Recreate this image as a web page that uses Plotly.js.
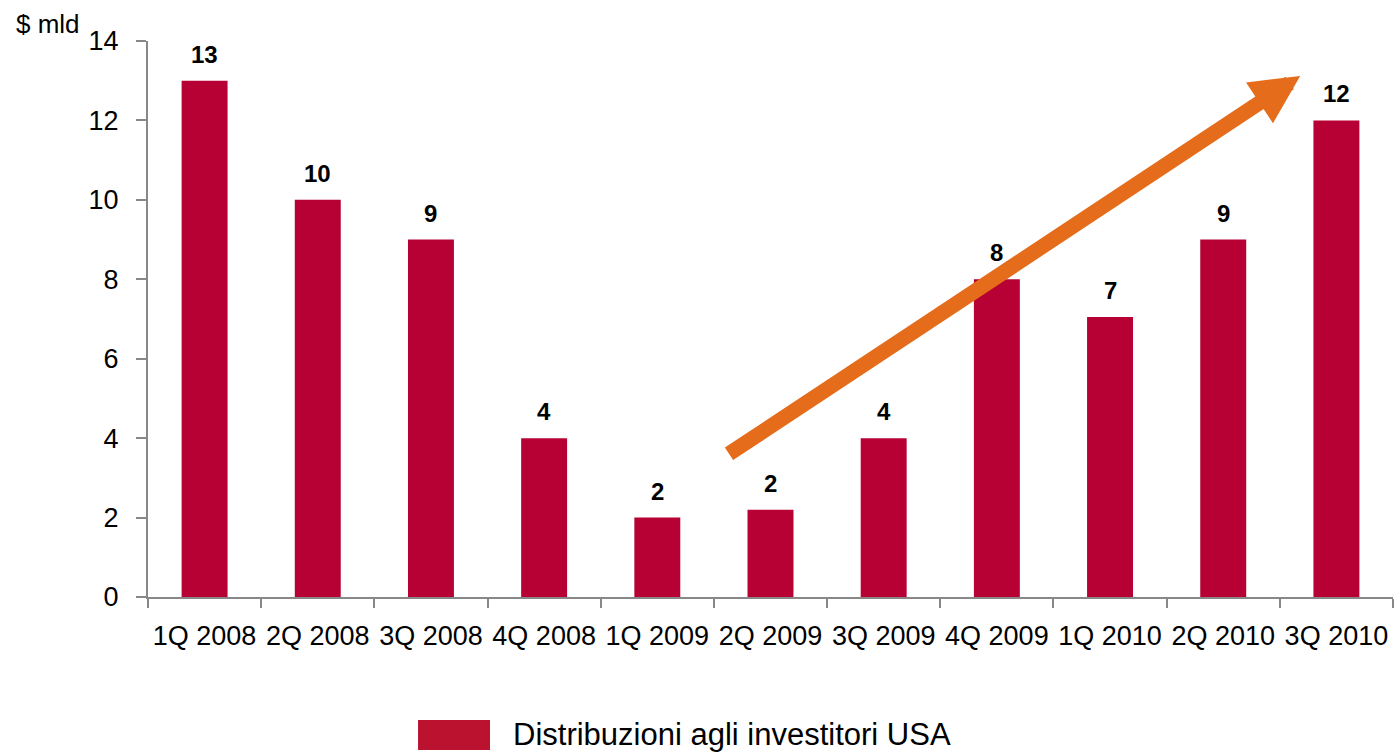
<!DOCTYPE html>
<html>
<head>
<meta charset="utf-8">
<script src="https://cdn.plot.ly/plotly-3.0.1.min.js"></script>
<style>
  html, body { margin: 0; padding: 0; background: #fff; }
  #plot { width: 1394px; height: 755px; }
</style>
</head>
<body>
<div id="plot"></div>
<script>
// quarters and values ($ mld)
var quarters = ["1Q 2008", "2Q 2008", "3Q 2008", "4Q 2008", "1Q 2009", "2Q 2009",
                "3Q 2009", "4Q 2009", "1Q 2010", "2Q 2010", "3Q 2010"];
var distribuzioni = [13, 10, 9, 4, 2.0, 2.2, 4, 8, 7.05, 9, 12];
var valueLabels = ["13", "10", "9", "4", "2", "2", "4", "8", "7", "9", "12"];
var yTicks = [0, 2, 4, 6, 8, 10, 12, 14];

var barColor = "#B70034";
var axisGrey = "#888888";
var font = "Arial, 'Liberation Sans', sans-serif";

var trace = {
  x: quarters,
  y: distribuzioni,
  type: "bar",
  name: "Distribuzioni agli investitori USA",
  marker: { color: barColor },
  hoverinfo: "none",
  showlegend: false
};

// labels above the bars
var annotations = quarters.map(function (q, i) {
  return {
    x: q, y: distribuzioni[i], xref: "x", yref: "y",
    text: "<b>" + valueLabels[i] + "</b>",
    showarrow: false, yanchor: "bottom", yshift: 11,
    font: { family: font, size: 24, color: "#000" }
  };
});

// trend arrow
annotations.push({
  x: 9.68, y: 13.12, ax: 4.62, ay: 3.58,
  xref: "x", yref: "y", axref: "x", ayref: "y",
  text: "", showarrow: true,
  arrowhead: 2, arrowsize: 0.65, arrowwidth: 15,
  arrowcolor: "#E46C1A", standoff: 0
});

// unit label
annotations.push({
  x: -0.108, y: 1.031, xref: "paper", yref: "paper",
  xanchor: "left", yanchor: "middle", showarrow: false,
  text: "$ mld", font: { family: font, size: 26, color: "#000" }
});

// legend text
annotations.push({
  x: 0.2915, y: -0.2482, xref: "paper", yref: "paper",
  xanchor: "left", yanchor: "middle", showarrow: false,
  text: "Distribuzioni agli investitori USA",
  font: { family: font, size: 31, color: "#000" }
});

var layout = {
  width: 1394,
  height: 755,
  margin: { l: 148, r: 1, t: 41, b: 158 },
  paper_bgcolor: "#fff",
  plot_bgcolor: "#fff",
  bargap: 0.594,
  font: { family: font, color: "#000" },
  xaxis: {
    type: "category",
    tickson: "boundaries",
    tickangle: 0,
    ticks: "outside", ticklen: 9, tickwidth: 2, tickcolor: axisGrey,
    showline: true, linecolor: axisGrey, linewidth: 2,
    showgrid: false, zeroline: false,
    tickfont: { family: font, size: 27, color: "#000" },
    ticklabelstandoff: 14
  },
  yaxis: {
    range: [0, 14],
    tickvals: yTicks,
    ticks: "outside", ticklen: 10, tickwidth: 2, tickcolor: axisGrey,
    showline: true, linecolor: axisGrey, linewidth: 2,
    showgrid: false, zeroline: false,
    tickfont: { family: font, size: 27, color: "#000" },
    ticklabelstandoff: 12
  },
  shapes: [{
    type: "rect", xref: "paper", yref: "paper",
    x0: 0.2169, x1: 0.2747, y0: -0.2752, y1: -0.2212,
    fillcolor: "#BB1230", line: { width: 0 }
  }],
  annotations: annotations
};

Plotly.newPlot("plot", [trace], layout, { displayModeBar: false, staticPlot: true });
</script>
</body>
</html>
